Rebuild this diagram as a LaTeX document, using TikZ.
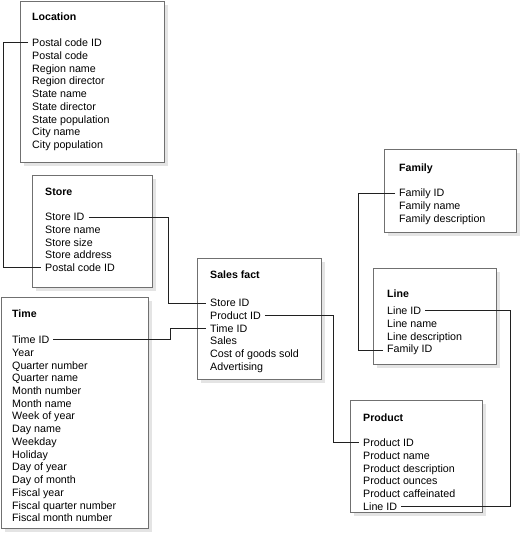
\documentclass[tikz,border=0pt]{standalone}
\usepackage{fontspec}
\setmainfont{Liberation Sans}
\usetikzlibrary{shadows}
\definecolor{boxgray}{HTML}{707070}
\definecolor{shadowgray}{HTML}{E4E4E4}
\definecolor{linkcol}{HTML}{202020}
\begin{document}
\begin{tikzpicture}[x=1pt,y=-1pt,
  tbl/.style={draw=boxgray, line width=0.9pt, fill=white, inner sep=0pt, anchor=north west,
    drop shadow={shadow xshift=4pt, shadow yshift=-4pt, fill=shadowgray, opacity=1}},
  ttl/.style={anchor=mid west, inner sep=0pt, yshift=-2pt, font=\fontsize{10.6}{12.75}\selectfont\bfseries},
  row/.style={anchor=mid west, inner sep=0pt, yshift=-2pt, font=\fontsize{10.7}{12.75}\selectfont},
  link/.style={draw=linkcol, line width=0.8pt, shorten <=4pt, shorten >=4pt}]
\useasboundingbox (0,0) rectangle (520,534);
% boxes
\node[tbl, minimum width=144pt, minimum height=161pt] (location) at (20,1) {};
\node[tbl, minimum width=120pt, minimum height=112pt] (store) at (32,175) {};
\node[tbl, minimum width=124pt, minimum height=121pt] (sales) at (197,258) {};
\node[tbl, minimum width=147pt, minimum height=231pt] (time) at (1,297) {};
\node[tbl, minimum width=132pt, minimum height=83pt] (family) at (384,149) {};
\node[tbl, minimum width=123pt, minimum height=96pt] (line) at (373,268) {};
\node[tbl, minimum width=132pt, minimum height=112pt] (product) at (350,400) {};
% titles
\node[ttl] (loct) at (32,16) {Location};
\node[ttl] (stt) at (45,191) {Store};
\node[ttl] (sft) at (210,274) {Sales fact};
\node[ttl] (tmt) at (12,313) {Time};
\node[ttl] (fat) at (399,167) {Family};
\node[ttl] (lnt) at (387,293) {Line};
\node[ttl] (prt) at (363,417) {Product};
% rows
\foreach \t [count=\i] in {Postal code ID,Postal code,Region name,Region director,State name,State director,State population,City name,City population}
  \node[row] (loc\i) at (32,{42+12.75*(\i-1)}) {\t};
\foreach \t [count=\i] in {Store ID,Store name,Store size,Store address,Postal code ID}
  \node[row] (st\i) at (45,{216+12.75*(\i-1)}) {\t};
\foreach \t [count=\i] in {Store ID,Product ID,Time ID,Sales,Cost of goods sold,Advertising}
  \node[row] (sf\i) at (210,{302+12.75*(\i-1)}) {\t};
\foreach \t [count=\i] in {Time ID,Year,Quarter number,Quarter name,Month number,Month name,Week of year,Day name,Weekday,Holiday,Day of year,Day of month,Fiscal year,Fiscal quarter number,Fiscal month number}
  \node[row] (tm\i) at (12,{339+12.72*(\i-1)}) {\t};
\foreach \t [count=\i] in {Family ID,Family name,Family description}
  \node[row] (fa\i) at (399,{192+12.75*(\i-1)}) {\t};
\foreach \t [count=\i] in {Line ID,Line name,Line description,Family ID}
  \node[row] (ln\i) at (387,{310+12.75*(\i-1)}) {\t};
\foreach \t [count=\i] in {Product ID,Product name,Product description,Product ounces,Product caffeinated,Line ID}
  \node[row] (pr\i) at (363,{442+12.75*(\i-1)}) {\t};
% connectors
\draw[link] (loc1.west) -- ++(-29,0) |- (st5.west);
\draw[link] (st1.east) -- ([xshift=-42pt]sf1.west |- st1.east) |- (sf1.west);
\draw[link] (tm1.east) -- ([xshift=-40pt]sf3.west |- tm1.east) |- (sf3.west);
\draw[link] (sf2.east) -- ([xshift=-30pt]pr1.west |- sf2.east) |- (pr1.west);
\draw[link] (fa1.west) -- ([xshift=-29pt]ln4.west |- fa1.west) |- (ln4.west);
\draw[link] (ln1.east) -- ([xshift=13pt]line.east |- ln1.east) |- (pr6.east);
\end{tikzpicture}
\end{document}
